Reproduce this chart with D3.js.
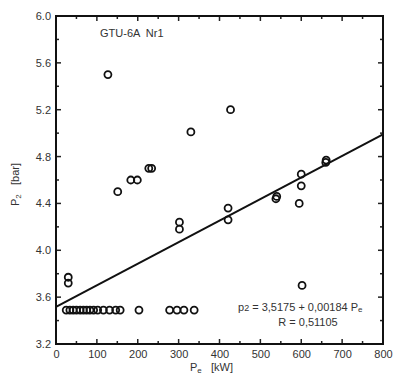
<!DOCTYPE html>
<html><head><meta charset="utf-8">
<script src="https://cdn.jsdelivr.net/npm/d3@7"></script>
<style>
html,body{margin:0;padding:0;background:#fff;}
svg text{font-family:Arial,"Liberation Sans",sans-serif;white-space:pre;}
</style></head>
<body><svg id="c" width="395" height="376"></svg>
<script>
// data: electric power Pe [kW] vs pressure p2 [bar]
const peValues = [127, 330, 183, 199, 227, 234, 151, 427, 600, 600, 660, 661, 538, 540, 595, 421, 421, 602, 302, 302, 30, 30,
  25, 34, 42, 50, 59, 67, 75, 83, 92, 102, 116, 131, 146, 157, 203, 278, 296, 313, 338];
const p2Values = [5.50, 5.01, 4.60, 4.60, 4.70, 4.70, 4.50, 5.20, 4.65, 4.55, 4.75, 4.77, 4.44, 4.46, 4.40, 4.36, 4.26, 3.70, 4.24, 4.18, 3.77, 3.72,
  3.49, 3.49, 3.49, 3.49, 3.49, 3.49, 3.49, 3.49, 3.49, 3.49, 3.49, 3.49, 3.49, 3.49, 3.49, 3.49, 3.49, 3.49, 3.49];
const fitIntercept = 3.5175;
const fitSlope = 0.00184;
const fitRange = [0, 800];
const xTicks = [0, 100, 200, 300, 400, 500, 600, 700, 800];
const yTicks = [3.2, 3.6, 4.0, 4.4, 4.8, 5.2, 5.6, 6.0];
const title = "GTU-6A  Nr1";

const svg = d3.select("#c");
const L = 56, R = 383, T = 16, B = 344;
const x = d3.scaleLinear().domain([0, 800]).range([L, R]);
const y = d3.scaleLinear().domain([3.2, 6.0]).range([B, T]);

const xMinor = d3.range(0, 801, 50);
const yMinor = d3.range(3.2, 6.001, 0.2);

const tickCol = "#222", labCol = "#333";
const bottom = svg.append("g").attr("transform", `translate(0,${B})`)
  .call(d3.axisBottom(x).tickValues(xTicks).tickFormat(d3.format("d")).tickSize(0).tickPadding(6));
const left = svg.append("g").attr("transform", `translate(${L},0)`)
  .call(d3.axisLeft(y).tickValues(yTicks).tickFormat(d3.format(".1f")).tickSize(0).tickPadding(5));
[bottom, left].forEach(g => {
  g.select(".domain").remove();
  g.selectAll("text").attr("font-size", 11).attr("fill", labCol)
    .style("font-family", "Arial, 'Liberation Sans', sans-serif");
});

// inward ticks on all four sides
const tg = svg.append("g").attr("stroke", tickCol).attr("stroke-width", 1.5);
xMinor.forEach(v => {
  const len = (v % 100 === 0) ? 5 : 3;
  tg.append("line").attr("x1", x(v)).attr("x2", x(v)).attr("y1", B).attr("y2", B - len);
  tg.append("line").attr("x1", x(v)).attr("x2", x(v)).attr("y1", T).attr("y2", T + len);
});
yMinor.forEach((v, i) => {
  const len = (i % 2 === 0) ? 5 : 3;
  tg.append("line").attr("y1", y(v)).attr("y2", y(v)).attr("x1", L).attr("x2", L + len);
  tg.append("line").attr("y1", y(v)).attr("y2", y(v)).attr("x1", R).attr("x2", R - len);
});

// frame
svg.append("rect").attr("x", L).attr("y", T).attr("width", R - L).attr("height", B - T)
  .attr("fill", "none").attr("stroke", "#111").attr("stroke-width", 2);

// regression line
const line = d3.line().x(d => x(d)).y(d => y(fitIntercept + fitSlope * d));
svg.append("path").datum(fitRange).attr("d", line)
  .attr("fill", "none").attr("stroke", "#111").attr("stroke-width", 2);

// points
svg.append("g").selectAll("circle").data(peValues.map((v, i) => [v, p2Values[i]]))
  .join("circle").attr("cx", d => x(d[0])).attr("cy", d => y(d[1])).attr("r", 3.5)
  .attr("fill", "none").attr("stroke", "#111").attr("stroke-width", 1.8);

// texts
svg.append("text").attr("x", 100).attr("y", 37).attr("font-size", 11).attr("fill", labCol).text(title);

const eq = svg.append("text").attr("x", 238).attr("y", 311).attr("font-size", 11).attr("fill", labCol);
eq.append("tspan").text("p");
eq.append("tspan").attr("font-size", 9).text("2");
eq.append("tspan").text(" = 3,5175 + 0,00184 P");
eq.append("tspan").attr("font-size", 8).attr("dy", 1).text("e");
svg.append("text").attr("x", 308).attr("y", 326).attr("text-anchor", "middle").attr("font-size", 11).attr("fill", labCol).text("R = 0,51105");

// axis titles
const xt = svg.append("text").attr("x", 190).attr("y", 371).attr("font-size", 11).attr("fill", labCol);
xt.append("tspan").text("P");
xt.append("tspan").attr("font-size", 8).attr("dy", 2).text("e");
xt.append("tspan").attr("dy", -2).text("   [kW]");

const yt = svg.append("text").attr("transform", "translate(19,206) rotate(-90)").attr("font-size", 11).attr("fill", labCol);
yt.append("tspan").text("P");
yt.append("tspan").attr("font-size", 8).attr("dy", 2).text("2");
yt.append("tspan").attr("dy", -2).text("   [bar]");
</script></body></html>
